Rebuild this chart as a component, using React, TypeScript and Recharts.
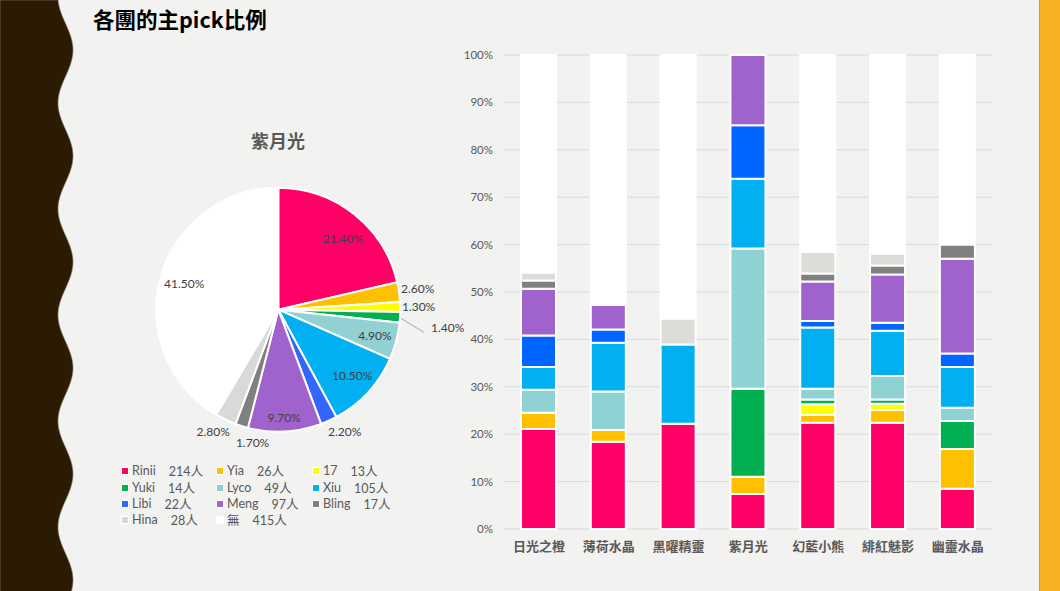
import React from "react";
import { PieChart, Pie, Cell, BarChart, Bar, XAxis, YAxis, CartesianGrid } from "recharts";

// Members and their first-pick counts for 紫月光 (pie + legend)
const members = ["Rinii", "Yia", "17", "Yuki", "Lyco", "Xiu", "Libi", "Meng", "Bling", "Hina", "無"];
const votes = [214, 26, 13, 14, 49, 105, 22, 97, 17, 28, 415];
const pieColors = ["#FF0066", "#FFC000", "#FFFF00", "#00B050", "#92D1D3", "#00B0F0", "#3366FF", "#A062CC", "#808080", "#D9D9D9", "#FFFFFF"];
const barColors = ["#FF0066", "#FFC000", "#FFFF00", "#00B050", "#8FD2D3", "#00B0F0", "#0066FF", "#A062CC", "#808080", "#DCDCD8", "#FFFFFF"];

// Groups and share (%) of each member per group
const groups = ["日光之橙", "薄荷水晶", "黑曜精靈", "紫月光", "幻藍小熊", "緋紅魅影", "幽靈水晶"];
const rinii = [21.1, 18.4, 22.2, 7.4, 22.4, 22.4, 8.5];
const yia = [3.4, 2.5, 0, 3.6, 1.7, 2.7, 8.4];
const s17 = [0, 0, 0, 0, 2.2, 1.3, 0];
const yuki = [0, 0, 0, 18.6, 1.0, 0.9, 5.9];
const lyco = [4.9, 8.1, 0, 29.6, 2.3, 5.0, 2.8];
const xiu = [4.8, 10.3, 16.7, 14.7, 12.9, 9.5, 8.6];
const libi = [6.6, 2.8, 0, 11.3, 1.4, 1.7, 2.8];
const meng = [9.9, 5.2, 0, 14.8, 8.3, 10.2, 20.0];
const bling = [1.7, 0, 0, 0, 1.7, 1.9, 3.0];
const hina = [1.7, 0, 5.5, 0, 4.6, 2.5, 0];
const none = [45.9, 52.7, 55.6, 0, 41.5, 41.9, 40.0];
const yTicks = [0, 10, 20, 30, 40, 50, 60, 70, 80, 90, 100];

const series = [rinii, yia, s17, yuki, lyco, xiu, libi, meng, bling, hina, none];

const barData = groups.map((g, i) => {
  const row: Record<string, string | number> = { group: g, idx: i };
  members.forEach((m, k) => {
    row[m] = series[k][i];
  });
  return row;
});

const pieData = members.map((m, i) => ({ name: m, value: votes[i] }));

const FONT = "Lato, 'Noto Sans CJK TC', sans-serif";
const CJK = "'Noto Sans CJK TC', sans-serif";
const GREY = "#595959";

// label placement per slice: [radius factor, angle shift in degrees]
const labelPlace: [number, number][] = [
  [0.79, -3.6], [1.156, 0.5], [1.15, 0], [1, 0], [0.82, 0], [0.81, 1],
  [1.14, 4], [0.885, 0], [1.11, 6.5], [1.135, -2.5], [0.8, 0],
];

const RAD = Math.PI / 180;

const PieLabel = (props: any) => {
  const { cx, cy, midAngle, outerRadius, index, value } = props;
  const text = (value / 10).toFixed(2) + "%";
  if (index === 3) {
    const sx = cx + (outerRadius + 1) * Math.cos(-midAngle * RAD);
    const sy = cy + (outerRadius + 1) * Math.sin(-midAngle * RAD);
    return (
      <g>
        <polyline points={`${sx},${sy + 1} ${sx + 23},${sy + 15}`} fill="none" stroke="#A6A6A6" strokeWidth={1} />
        <text x={sx + 30} y={sy + 10} fill="#404040" fontSize={12} fontFamily={FONT} textAnchor="start" dominantBaseline="central">
          {text}
        </text>
      </g>
    );
  }
  const [f, shift] = labelPlace[index];
  const a = midAngle + shift;
  const x = cx + outerRadius * f * Math.cos(-a * RAD);
  const y = cy + outerRadius * f * Math.sin(-a * RAD);
  return (
    <text x={x} y={y} fill="#404040" fontSize={12} fontFamily={FONT} textAnchor="middle" dominantBaseline="central">
      {text}
    </text>
  );
};

// left wavy band
const wavePath = (() => {
  let d = "M0,0";
  for (let y = 0; y <= 592; y += 2) {
    const x = 65.5 + 7.5 * Math.sin((2 * Math.PI * (y - 23.5)) / 106);
    d += ` L${x.toFixed(2)},${y}`;
  }
  d += " L0,592 Z";
  return d;
})();

const legendCols = [121, 216, 312];
const legendRows = [471, 488, 504, 520];

const EdgeTick = () => <g />;

export default function App() {
  return (
    <div style={{ position: "fixed", left: 0, top: 0, width: 1060, height: 591, background: "#F2F2F0", overflow: "hidden" }}>
      <svg width={1060} height={591} style={{ position: "absolute", left: 0, top: 0 }}>
        <path d={wavePath} fill="#2A1B02" stroke="#8a8070" strokeWidth={0.6} />
        <rect x={1039} y={0} width={21} height={591} fill="#F8B125" />
        <line x1={1039.5} y1={0} x2={1039.5} y2={591} stroke="#A0A0A0" strokeWidth={1} />
      </svg>

      <div style={{ position: "absolute", left: 93, top: 5, fontFamily: CJK, fontSize: 21.5, fontWeight: 700, color: "#000", whiteSpace: "nowrap", lineHeight: "28px" }}>
        各團的主pick比例
      </div>

      <div style={{ position: "absolute", left: 178, top: 127, width: 200, textAlign: "center", fontFamily: CJK, fontSize: 18, fontWeight: 700, color: GREY, lineHeight: "26px" }}>
        紫月光
      </div>

      <div style={{ position: "absolute", left: 110, top: 120 }}>
        <PieChart width={360} height={340} margin={{ top: 0, right: 0, bottom: 0, left: 0 }}>
          <Pie
            data={pieData}
            dataKey="value"
            nameKey="name"
            cx={168.3}
            cy={189.7}
            outerRadius={122}
            startAngle={90}
            endAngle={-270}
            stroke="#FFFFFF"
            strokeWidth={2}
            label={PieLabel}
            labelLine={false}
            isAnimationActive={false}
          >
            {pieData.map((d, i) => (
              <Cell key={d.name} fill={pieColors[i]} />
            ))}
          </Pie>
        </PieChart>
      </div>

      {members.map((m, i) => {
        const col = i % 3;
        const row = Math.floor(i / 3);
        const x = legendCols[col];
        const y = legendRows[row];
        return (
          <div key={m} style={{ position: "absolute", left: x, top: y - 7, height: 14, lineHeight: "14px", display: "flex", alignItems: "center", whiteSpace: "nowrap", fontFamily: FONT, fontSize: 12.5, color: GREY }}>
            <span style={{ display: "inline-block", width: 6, height: 6, background: pieColors[i], border: "1px solid #FFFFFF", marginRight: 3 }} />
            <span style={{ fontFamily: m === "無" ? CJK : FONT }}>{m}</span>
            <span style={{ marginLeft: 13 }}>
              {votes[i]}
              <span style={{ fontFamily: CJK }}>人</span>
            </span>
          </div>
        );
      })}

      <div style={{ position: "absolute", left: 440, top: 40 }}>
        <BarChart width={570} height={530} data={barData} margin={{ top: 15, right: 17.3, left: 0, bottom: 0 }} barSize={35}>
          <CartesianGrid horizontal vertical={false} stroke="#D9D9D9" strokeWidth={1} xAxisId="cat" />
          <XAxis
            xAxisId="edge"
            type="number"
            dataKey="idx"
            domain={[0, 7]}
            ticks={[0, 1, 2, 3, 4, 5, 6, 7]}
            allowDataOverflow
            height={0}
            tickSize={4}
            tick={EdgeTick}
            axisLine={{ stroke: "#D9D9D9" }}
            tickLine={{ stroke: "#D9D9D9" }}
          />
          <XAxis
            xAxisId="cat"
            dataKey="group"
            height={41}
            axisLine={false}
            tickLine={false}
            tickSize={0}
            tickMargin={13}
            interval={0}
            tick={{ fill: GREY, fontSize: 13, fontWeight: 700, fontFamily: CJK }}
          />
          <YAxis
            width={64}
            domain={[0, 100]}
            ticks={yTicks}
            tickFormatter={(v: number) => `${v}%`}
            axisLine={false}
            tickLine={false}
            tickSize={0}
            tickMargin={11}
            tick={{ fill: GREY, fontSize: 11.5, fontFamily: FONT }}
          />
          {members.map((m, k) => (
            <Bar key={m} dataKey={m} stackId="a" xAxisId="cat" fill={barColors[k]} stroke="#FFFFFF" strokeWidth={2} isAnimationActive={false} />
          ))}
        </BarChart>
      </div>
    </div>
  );
}
